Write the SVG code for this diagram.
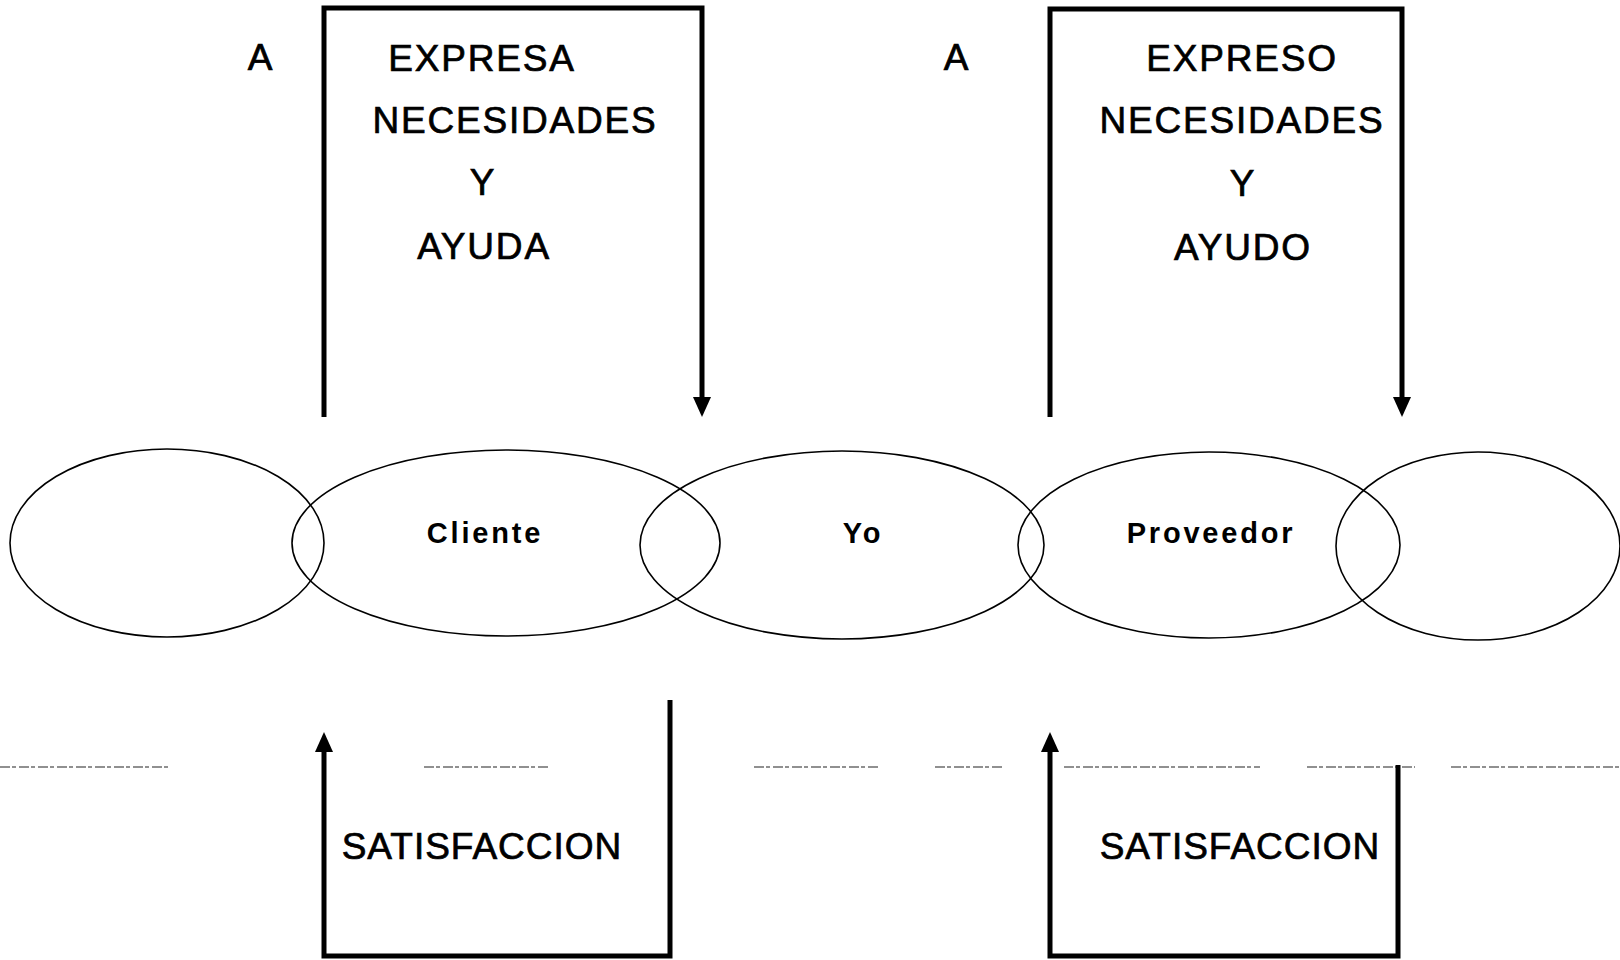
<svg xmlns="http://www.w3.org/2000/svg" width="1620" height="960" viewBox="0 0 1620 960">
<style>
  .big { font-family: "Liberation Sans", Arial, sans-serif; font-size: 37px; fill: #000; stroke: #000; stroke-width: 0.7px; text-anchor: middle; letter-spacing: 1.8px; }
  .sat { font-family: "Liberation Sans", Arial, sans-serif; font-size: 37px; fill: #000; stroke: #000; stroke-width: 0.7px; text-anchor: middle; letter-spacing: 1px; }
  .lbl { font-family: "Liberation Sans", Arial, sans-serif; font-size: 29px; font-weight: bold; fill: #000; text-anchor: middle; letter-spacing: 2.8px; }
  .ell { fill: none; stroke: #000; stroke-width: 1.6; }
  .conn { fill: none; stroke: #000; stroke-width: 5; stroke-linejoin: miter; stroke-linecap: butt; }
  .rule { fill: none; stroke: #222; stroke-width: 1.2; stroke-dasharray: 10 2 4 3; }
</style>
<defs>
  <marker id="arrow" viewBox="0 0 20 18" refX="1" refY="9" markerWidth="20" markerHeight="18" markerUnits="userSpaceOnUse" orient="auto">
    <polygon points="0,0 20,9 0,18" fill="#000"/>
  </marker>
</defs>
<rect width="1620" height="960" fill="#fff"/>

<g id="rule">
  <path class="rule" d="M0,767 H170 M424,767 H548 M754,767 H878 M935,767 H1002 M1064,767 H1260 M1307,767 H1415 M1451,767 H1620"/>
</g>

<g id="connectors">
  <path class="conn" d="M324,417 V8 H702 V398" marker-end="url(#arrow)"/>
  <path class="conn" d="M1050,417 V9 H1402 V398" marker-end="url(#arrow)"/>
  <path class="conn" d="M670,700 V956 H324 V751" marker-end="url(#arrow)"/>
  <path class="conn" d="M1398,765 V956 H1050 V751" marker-end="url(#arrow)"/>
</g>

<g id="ellipse-left">
  <ellipse class="ell" cx="167" cy="543" rx="157" ry="94"/>
</g>
<g id="node-cliente">
  <ellipse class="ell" cx="506" cy="543" rx="214" ry="93"/>
  <text class="lbl" x="485" y="543">Cliente</text>
</g>
<g id="node-yo">
  <ellipse class="ell" cx="842" cy="545" rx="202" ry="94"/>
  <text class="lbl" x="863" y="543">Yo</text>
</g>
<g id="node-proveedor">
  <ellipse class="ell" cx="1209" cy="545" rx="191" ry="93"/>
  <text class="lbl" x="1211" y="543">Proveedor</text>
</g>
<g id="ellipse-right">
  <ellipse class="ell" cx="1478" cy="546" rx="142" ry="94"/>
</g>

<g id="label-top-left">
  <text class="big" x="261" y="70">A</text>
  <text class="big" x="482" y="71">EXPRESA</text>
  <text class="big" x="515" y="133">NECESIDADES</text>
  <text class="big" x="483" y="195">Y</text>
  <text class="big" x="484" y="259">AYUDA</text>
</g>
<g id="label-top-right">
  <text class="big" x="957" y="70">A</text>
  <text class="big" x="1242" y="71">EXPRESO</text>
  <text class="big" x="1242" y="133">NECESIDADES</text>
  <text class="big" x="1243" y="196">Y</text>
  <text class="big" x="1243" y="260">AYUDO</text>
</g>
<g id="label-bottom-left">
  <text class="sat" x="482" y="859">SATISFACCION</text>
</g>
<g id="label-bottom-right">
  <text class="sat" x="1240" y="859">SATISFACCION</text>
</g>
</svg>
